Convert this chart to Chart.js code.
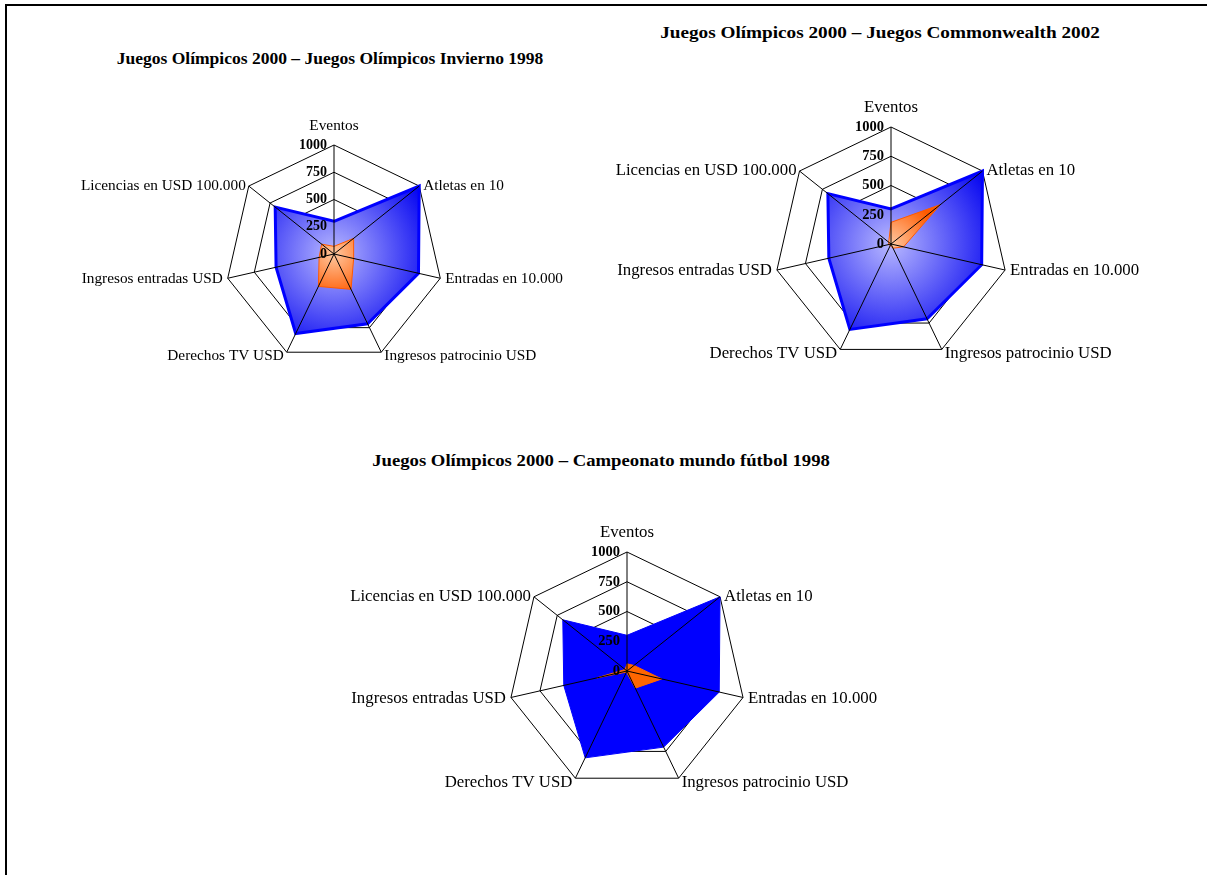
<!DOCTYPE html>
<html lang="es">
<head>
<meta charset="UTF-8">
<title>Juegos Olímpicos 2000 - comparaciones</title>
<script src="https://cdn.jsdelivr.net/npm/chart.js@4"></script>
<style>
  html, body { margin: 0; background: #fff; overflow: hidden; }
  body { width: 1207px; height: 875px; position: relative; font-family: 'Liberation Serif', serif; }
  .rule { position: absolute; background: #000; }
  .title { position: absolute; font-weight: bold; font-size: 17px; white-space: nowrap; }
  canvas { position: absolute; }
</style>
</head>
<body>
<div class="rule" style="left:5px; top:4px; width:1202px; height:2px;"></div>
<div class="rule" style="left:5px; top:4px; width:2px; height:871px;"></div>
<div class="title" style="left:330px; top:59px; transform:translate(-50%,-50%) scaleX(1.03);">Juegos Olímpicos 2000 – Juegos Olímpicos Invierno 1998</div>
<div class="title" style="left:880px; top:33px; transform:translate(-50%,-50%) scaleX(1.13);">Juegos Olímpicos 2000 – Juegos Commonwealth 2002</div>
<div class="title" style="left:601px; top:461px; transform:translate(-50%,-50%) scaleX(1.10);">Juegos Olímpicos 2000 – Campeonato mundo fútbol 1998</div>

<canvas id="c1" width="558" height="298" style="left:55px; top:105px;"></canvas>
<canvas id="c2" width="574" height="314" style="left:604px; top:87px;"></canvas>
<canvas id="c3" width="578" height="318" style="left:338px; top:512px;"></canvas>

<script>
// axes of every radar
const axisLabels = ['Eventos', 'Atletas en 10', 'Entradas en 10.000', 'Ingresos patrocinio USD',
                    'Derechos TV USD', 'Ingresos entradas USD', 'Licencias en USD 100.000'];
const tickValues = [0, 250, 500, 750, 1000];

// Juegos Olímpicos 2000 (blue, same in all three)
const olimpicos2000 = [300, 1000, 795, 710, 810, 545, 690];
// compared events (orange)
const invierno1998 = [70, 230, 185, 360, 330, 140, 145];
const commonwealth2002 = [185, 540, 110, 40, 15, 20, 25];
const futbol1998 = [60, 75, 300, 160, 10, 260, 20];

// label placement around the vertices: [align, dx, dy]
const labelPos = [['center', 0, -19], ['left', 4, 0], ['left', 5, 1], ['left', 3, 4],
                  ['right', -3, 4], ['right', -5, 1], ['right', -3, 0]];

function overlay(labelSize, tickSize) {
  return {
    id: 'overlay',
    afterDatasetsDraw(chart) {
      const s = chart.scales.r, ctx = chart.ctx;
      ctx.save();
      ctx.strokeStyle = '#000';
      ctx.lineWidth = 1;
      chart.data.labels.forEach((lab, i) => {
        const p = s.getPointPosition(i, s.drawingArea);
        ctx.beginPath();
        ctx.moveTo(s.xCenter, s.yCenter);
        ctx.lineTo(p.x, p.y);
        ctx.stroke();
      });
      ctx.fillStyle = '#000';
      ctx.textBaseline = 'middle';
      ctx.font = 'bold ' + tickSize + 'px "Liberation Serif"';
      ctx.textAlign = 'right';
      tickValues.forEach(v => {
        ctx.fillText(String(v), s.xCenter - 7, s.yCenter - s.getDistanceFromCenterForValue(v));
      });
      ctx.font = labelSize + 'px "Liberation Serif"';
      chart.data.labels.forEach((lab, i) => {
        const p = s.getPointPosition(i, s.drawingArea);
        const o = labelPos[i];
        ctx.textAlign = o[0];
        ctx.fillText(lab, p.x + o[1], p.y + o[2]);
      });
      ctx.restore();
    }
  };
}

function radialFill(inner, outer, frac) {
  return (c) => {
    const s = c.chart.scales.r;
    if (!s || !s.drawingArea) return outer;
    const g = c.chart.ctx.createRadialGradient(s.xCenter, s.yCenter, 0, s.xCenter, s.yCenter, s.drawingArea * frac);
    g.addColorStop(0, inner);
    g.addColorStop(1, outer);
    return g;
  };
}

function makeRadar(id, other, shaded, labelSize, tickSize) {
  new Chart(document.getElementById(id), {
    type: 'radar',
    data: {
      labels: axisLabels,
      datasets: [
        {
          label: 'Juegos Olímpicos 2000',
          data: olimpicos2000,
          order: 2,
          fill: true,
          backgroundColor: shaded ? radialFill('#b8b8ff', '#0000f0', 1.0) : '#0000ff',
          borderColor: '#0000ff',
          borderWidth: shaded ? 3 : 1
        },
        {
          label: 'Comparación',
          data: other,
          order: 1,
          fill: true,
          backgroundColor: shaded ? radialFill('#ffc8a0', '#ff5a00', 0.4) : '#ff6600',
          borderColor: shaded ? '#ff5a00' : '#ff6600',
          borderWidth: 1
        }
      ]
    },
    options: {
      responsive: false,
      animation: false,
      layout: { padding: { left: 170, right: 170, top: 40, bottom: 40 } },
      plugins: { legend: { display: false }, tooltip: { enabled: false } },
      elements: { point: { radius: 0 }, line: { tension: 0 } },
      scales: {
        r: {
          min: 0,
          max: 1000,
          ticks: { display: false, stepSize: 250 },
          grid: { color: '#000', lineWidth: 1 },
          angleLines: { display: false },
          pointLabels: { display: false }
        }
      }
    },
    plugins: [overlay(labelSize, tickSize)]
  });
}

makeRadar('c1', invierno1998, true, 15.3, 14);
makeRadar('c2', commonwealth2002, true, 16.8, 14.5);
makeRadar('c3', futbol1998, false, 16.8, 14.5);
</script>
</body>
</html>
